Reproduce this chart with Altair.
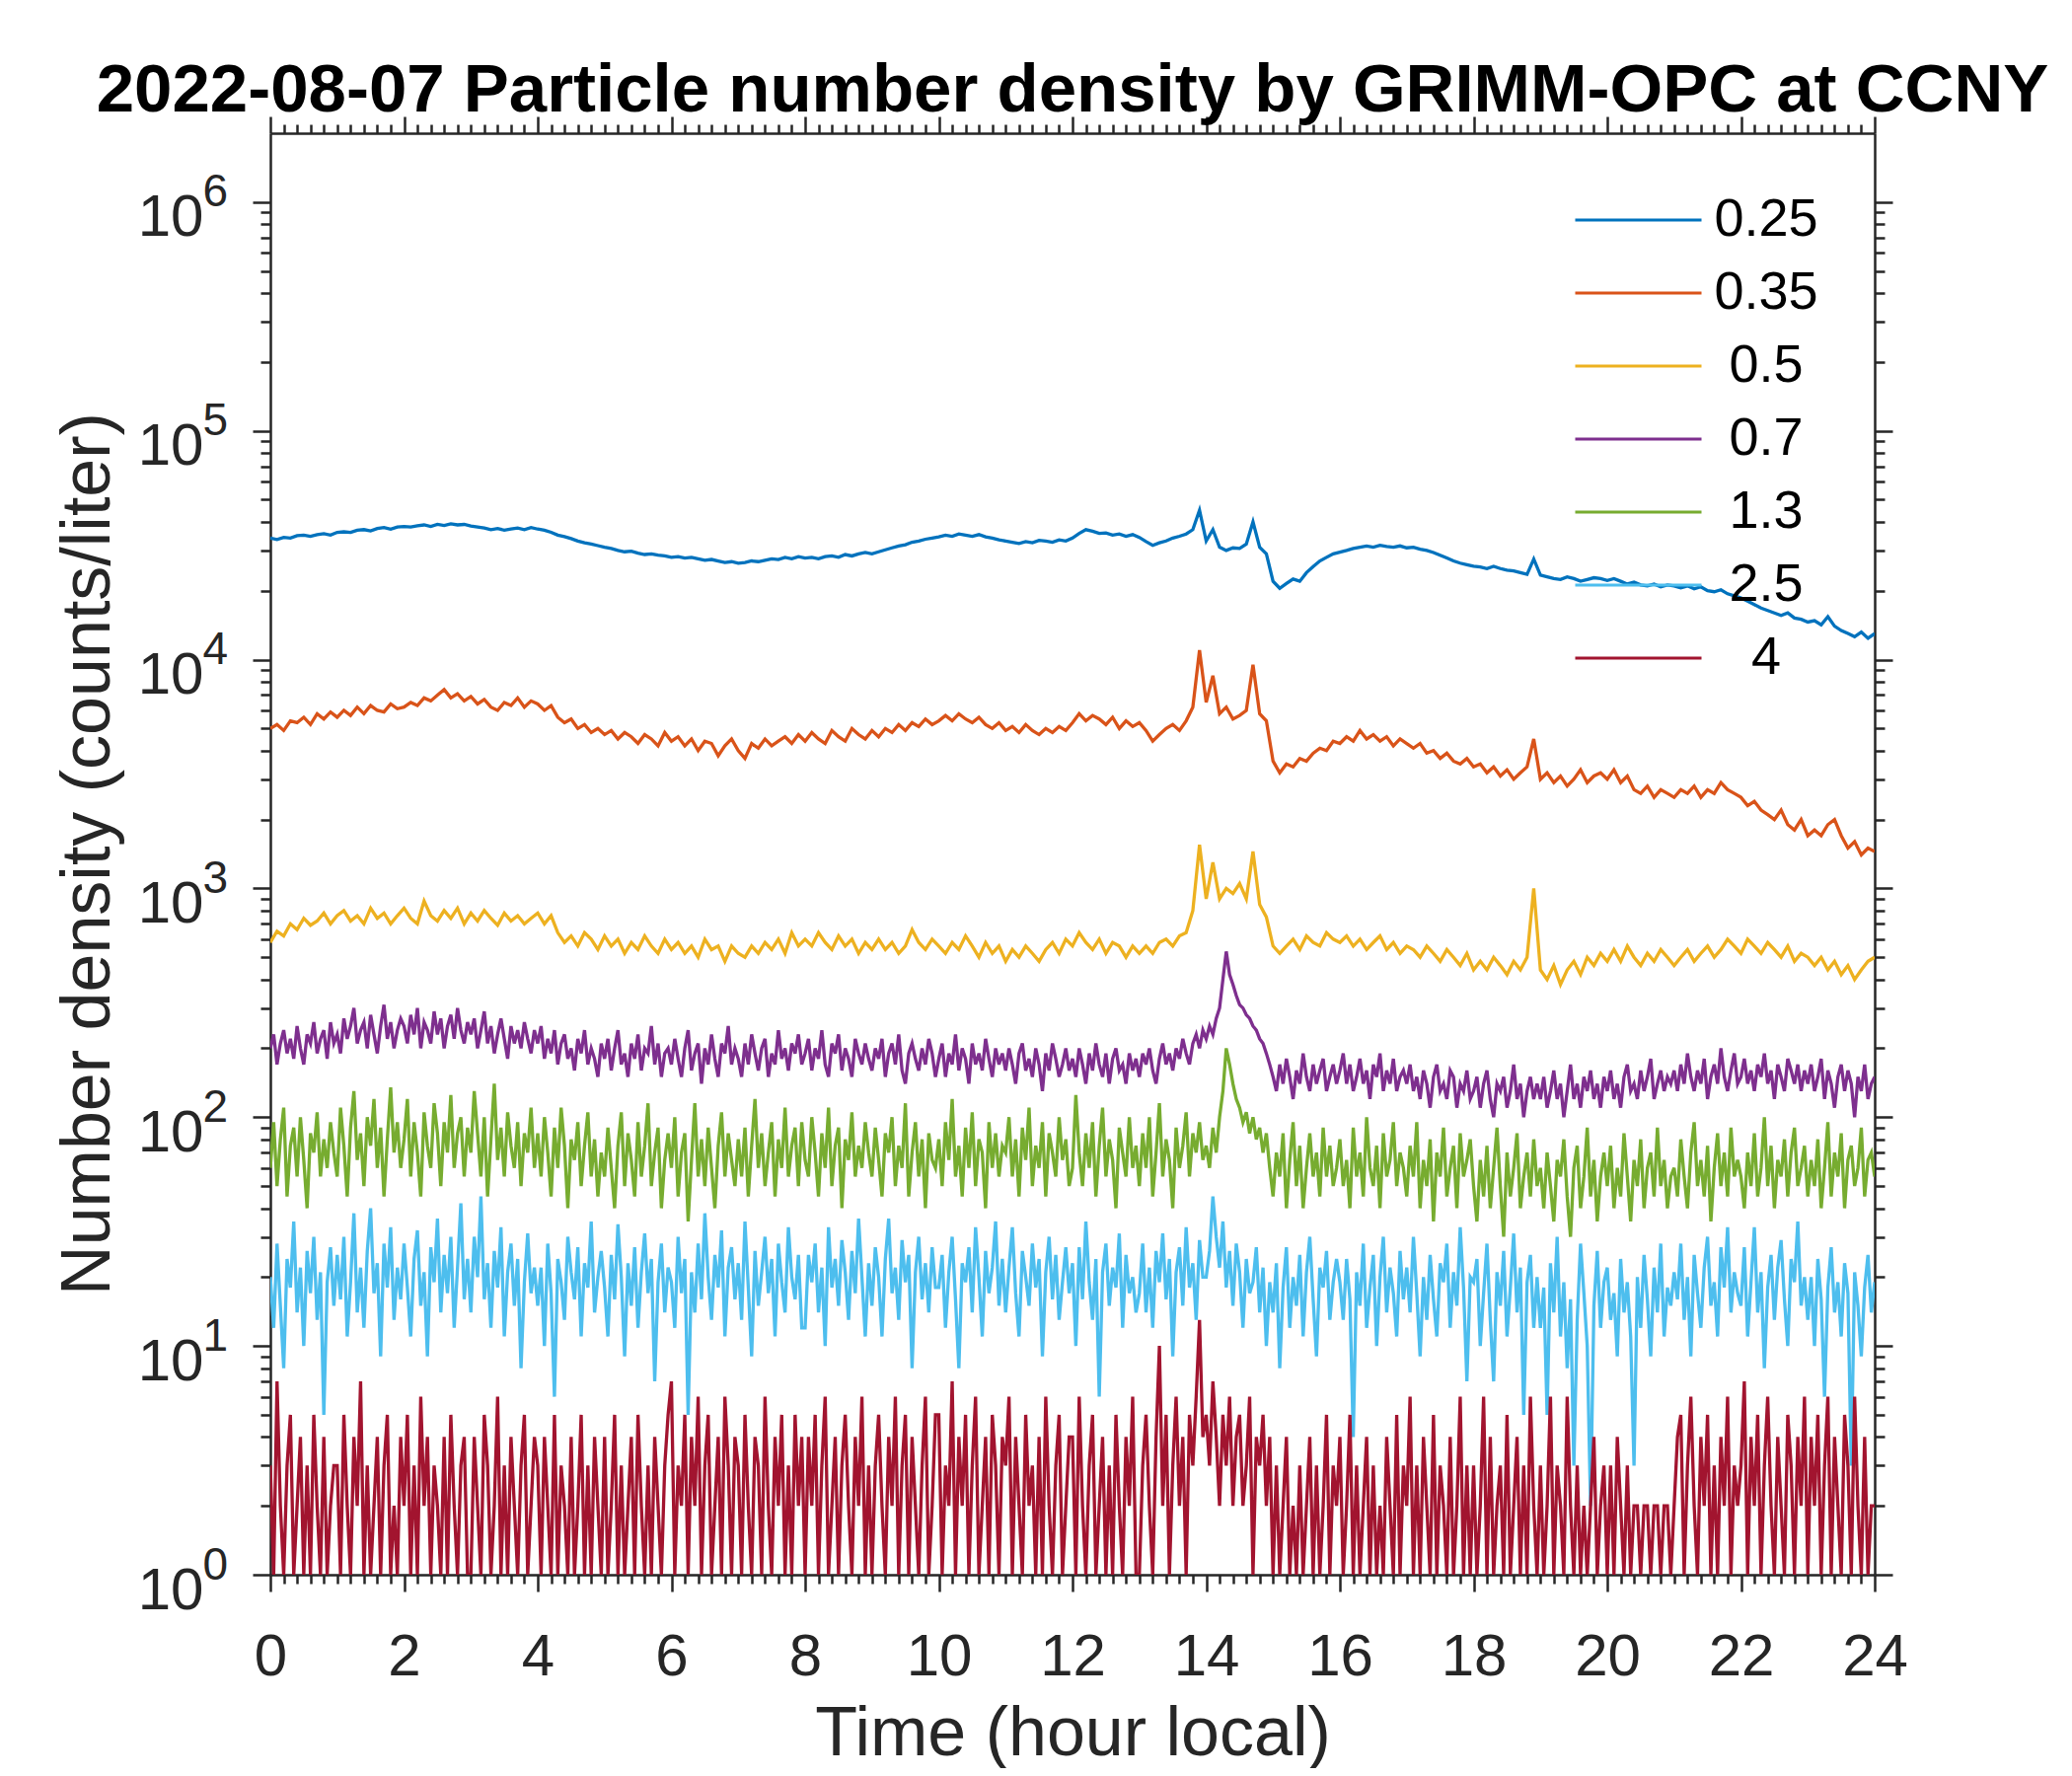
import altair as alt
import pandas as pd

HOURS = [round(i * 0.1, 1) for i in range(241)]
HOURS_FINE = [round(i * 0.05, 2) for i in range(481)]
SIZES = ["0.25", "0.35", "0.5", "0.7", "1.3", "2.5", "4"]
COLORS = ["#0072BD", "#D95319", "#EDB120", "#7E2F8E", "#77AC30", "#4DBEEE", "#A2142F"]

# 0.25 um channel, every 0.1 h
N025 = [
    34000, 33500, 34200, 34000, 34800, 35000, 34600, 35200, 35500, 35000, 36000,
    36200, 36000, 36800, 37000, 36500, 37400, 37800, 37200, 38000, 38200,
    38000, 38500, 38800, 38200, 39000, 38600, 39200, 38800, 39000, 38400,
    38000, 37600, 37000, 37400, 36800, 37200, 37600, 37000, 37800, 37200,
    36800, 36000, 35000, 34500, 33800, 33000, 32400, 32000, 31500, 31000,
    30600, 30000, 29600, 29800, 29200, 28800, 29000, 28600, 28400, 28000,
    28200, 27800, 28000, 27600, 27200, 27400, 27000, 26600, 26800, 26400,
    26600, 27000, 26800, 27200, 27600, 27400, 28000, 27600, 28200, 27800,
    28000, 27600, 28200, 28400, 28000, 28800, 28400, 29000, 29400, 29000,
    29600, 30200, 30800, 31400, 31800, 32600, 33000, 33600, 34000, 34400,
    35000, 34600, 35400, 35000, 34600, 35200, 34400, 34000, 33400, 33000,
    32600, 32200, 32800, 32400, 33200, 33000, 32600, 33400, 33000, 34000,
    35600, 37000, 36400, 35600, 35800, 35000, 35400, 34600, 35200, 34200,
    32800, 31600, 32400, 33000, 34000, 34600, 35400, 37000, 45000, 33000,
    37000, 31000, 30000, 30800, 30600, 32000, 40000, 31000, 29000, 22000,
    20500, 21500, 22500, 22000, 24000, 25500, 27000, 28000, 29000, 29500,
    30000, 30600, 31000, 31400, 31000, 31600, 31200, 31000, 31400, 30800,
    31000, 30400, 30000, 29400, 28600, 27800, 27000, 26400, 26000, 25600,
    25400, 25000, 25600, 25000, 24600, 24400, 24000, 23600, 27500, 23400,
    23000, 22600, 22400, 23000, 22600, 22000, 22400, 22800, 22600, 22200,
    22600, 22000, 21400, 21800, 21200, 21000, 21400, 20800, 21200, 21000,
    20600, 21000, 20400, 20800, 20000, 19800, 20200, 19400, 19000, 18600,
    18000, 17400, 16800, 16400, 16000, 15600, 16000, 15200, 15000, 14600,
    14800, 14200, 15400, 14000, 13400, 13000, 12600, 13200, 12400, 13000,
]
# 0.35 um channel, every 0.1 h
N035 = [
    5000, 5200, 4900, 5400, 5300, 5600, 5200, 5800, 5500, 5900, 5600,
    6000, 5700, 6200, 5800, 6300, 6000, 5900, 6400, 6100, 6200,
    6500, 6300, 6800, 6600, 7000, 7400, 6800, 7100, 6600, 6900,
    6400, 6700, 6200, 6000, 6500, 6300, 6800, 6200, 6600, 6400,
    6000, 6300, 5600, 5300, 5500, 5000, 5200, 4800, 5000, 4700,
    4900, 4500, 4800, 4600, 4300, 4700, 4500, 4200, 4800, 4400,
    4600, 4200, 4500, 4000, 4400, 4300, 3800, 4200, 4500, 4000,
    3700, 4300, 4100, 4500, 4200, 4400, 4600, 4300, 4700, 4400,
    4800, 4500, 4300, 4900, 4600, 4400, 5000, 4700, 4500, 4900,
    4600, 5000, 4800, 5200, 4900, 5300, 5100, 5500, 5200, 5400,
    5700, 5400, 5800, 5500, 5300, 5600, 5200, 5000, 5300, 4900,
    5100, 4800, 5200, 4900, 4700, 5000, 4800, 5100, 4900, 5300,
    5800, 5400, 5700, 5500, 5200, 5600, 5000, 5400, 5100, 5300,
    4900, 4400, 4700, 5000, 5200, 4900, 5400, 6200, 11000, 6500,
    8500, 5800, 6200, 5500, 5700, 6000, 9500, 5800, 5400, 3600,
    3200, 3500, 3400, 3700, 3600, 3900, 4100, 4000, 4400, 4300,
    4600, 4400, 4900, 4500, 4700, 4400, 4600, 4200, 4500, 4300,
    4100, 4300, 3900, 4000, 3700, 3900, 3600, 3500, 3700, 3400,
    3500, 3200, 3400, 3100, 3300, 3000, 3200, 3400, 4500, 3000,
    3200, 2900, 3100, 2800, 3000, 3300, 2900, 3100, 3200, 3000,
    3300, 2900, 3100, 2700, 2600, 2800, 2500, 2700, 2600, 2500,
    2700, 2600, 2800, 2500, 2700, 2600, 2900, 2700, 2600, 2500,
    2300, 2400, 2200, 2100, 2000, 2200, 1900, 1800, 2000, 1700,
    1800, 1700, 1900, 2000, 1700, 1500, 1600, 1400, 1500, 1450,
]
# 0.5 um channel, every 0.1 h
N05 = [
    580, 650, 620, 700, 660, 740, 690, 720, 780, 700, 760,
    800, 720, 760, 700, 820, 740, 780, 700, 760, 820,
    740, 700, 880, 760, 720, 800, 740, 820, 700, 780,
    720, 800, 740, 690, 780, 720, 760, 700, 740, 780,
    700, 760, 640, 580, 620, 560, 640, 600, 540, 620,
    560, 600, 520, 580, 540, 620, 560, 520, 600, 540,
    580, 520, 560, 500, 600, 540, 560, 480, 560, 520,
    500, 560, 520, 580, 540, 600, 520, 640, 560, 600,
    560, 640, 580, 540, 620, 560, 600, 520, 580, 540,
    600, 540, 580, 520, 560, 660, 580, 540, 600, 560,
    520, 580, 540, 620, 560, 500, 580, 520, 560, 480,
    540, 500, 560, 520, 480, 540, 580, 520, 600, 560,
    640, 580, 540, 600, 520, 580, 560, 500, 560, 520,
    560, 520, 580, 600, 560, 620, 640, 800, 1550, 900,
    1300, 900, 1000, 950, 1050, 900, 1450, 850, 750, 560,
    520, 560, 600, 540, 620, 580, 560, 640, 600, 580,
    620, 560, 600, 540, 580, 620, 540, 580, 520, 560,
    540, 500, 560, 520, 480, 540, 500, 460, 520, 440,
    480, 440, 500, 460, 420, 480, 440, 500, 1000, 440,
    400, 460, 380, 440, 480, 420, 500, 460, 520, 480,
    540, 480, 560, 500, 460, 520, 480, 540, 500, 460,
    500, 540, 480, 520, 560, 500, 540, 600, 560, 520,
    600, 560, 520, 580, 540, 500, 560, 480, 520, 500,
    460, 500, 440, 480, 420, 460, 400, 440, 480, 500,
]
# 0.7 um channel, every 0.05 h
N07 = [
    200, 230, 170, 210, 240, 190, 220, 180, 250, 200, 170, 230, 210, 260, 190, 220, 240, 180, 260, 210,
    230, 190, 270, 220, 250, 300, 210, 240, 260, 200, 280, 230, 190, 250, 310, 220, 260, 200, 240, 270,
    250, 210, 280, 230, 300, 200, 260, 240, 210, 290, 230, 270, 200, 250, 280, 220, 300, 240, 210, 260,
    230, 270, 200, 240, 290, 210, 250, 190, 230, 270, 220, 180, 250, 210, 240, 200, 260, 220, 190, 240,
    210, 250, 180, 220, 190, 240, 170, 210, 230, 180, 200, 160, 220, 190, 240, 170, 200, 180, 150, 210,
    180, 220, 160, 200, 240, 170, 190, 150, 210, 180, 230, 160, 200, 190, 250, 170, 210, 150, 190, 200,
    170, 220, 180, 150, 200, 240, 160, 190, 210, 140, 200, 170, 230, 180, 150, 210, 190, 250, 170, 200,
    180, 150, 210, 170, 230, 190, 160, 200, 220, 150, 190, 170, 240, 180, 200, 160, 210, 190, 230, 170,
    190, 220, 160, 200, 180, 240, 170, 150, 210, 190, 230, 160, 200, 180, 150, 220, 190, 170, 210, 180,
    160, 200, 180, 220, 150, 190, 210, 170, 230, 160, 140, 190, 210, 180, 160, 200, 170, 220, 190, 150,
    180, 210, 150, 190, 170, 230, 160, 200, 180, 140, 210, 170, 190, 160, 220, 180, 150, 200, 170, 190,
    160, 200, 170, 140, 190, 210, 160, 180, 150, 200, 170, 130, 190, 160, 210, 180, 150, 170, 200, 160,
    180, 150, 200, 170, 140, 190, 160, 210, 170, 150, 190, 140, 180, 200, 160, 170, 140, 190, 160, 180,
    150, 190, 170, 200, 160, 140, 180, 210, 170, 190, 160, 200, 180, 220, 190, 170, 210, 230, 200, 240,
    220, 250, 230, 270, 300, 400, 530, 420, 380, 340, 310, 300, 280, 270, 250, 240, 220, 210, 190, 170,
    150, 130, 170, 140, 180, 150, 120, 160, 140, 190, 150, 130, 170, 140, 160, 180, 130, 150, 170, 140,
    160, 190, 140, 170, 130, 150, 180, 140, 160, 120, 170, 150, 190, 130, 160, 140, 180, 130, 150, 160,
    140, 170, 130, 150, 120, 160, 140, 110, 150, 170, 130, 140, 120, 160, 150, 110, 140, 130, 160, 120,
    130, 150, 110, 140, 160, 120, 100, 140, 130, 150, 110, 130, 170, 120, 140, 100, 130, 150, 120, 140,
    120, 150, 110, 130, 160, 120, 140, 100, 130, 170, 120, 140, 110, 150, 130, 160, 120, 140, 110, 150,
    130, 160, 120, 140, 110, 150, 170, 130, 140, 120, 160, 130, 150, 180, 120, 140, 160, 130, 150, 140,
    160, 130, 170, 140, 190, 150, 130, 160, 140, 180, 120, 150, 170, 140, 200, 150, 130, 160, 190, 140,
    150, 180, 140, 160, 130, 170, 150, 190, 140, 160, 120, 170, 150, 130, 180, 160, 140, 170, 130, 160,
    140, 170, 130, 150, 180, 120, 160, 140, 110, 150, 170, 130, 160, 140, 100, 150, 130, 170, 120, 140,
    150,
]
# 1.3 um channel, every 0.05 h
N13 = [
    60, 95, 50, 80, 110, 45, 75, 90, 55, 100, 65, 40, 85, 70, 105, 55, 80, 60, 95, 70,
    55, 110, 75, 45, 90, 130, 65, 85, 50, 100, 75, 120, 60, 90, 45, 80, 135, 70, 95, 60,
    80, 120, 55, 95, 70, 45, 105, 75, 60, 115, 85, 50, 95, 70, 125, 60, 85, 100, 55, 90,
    70, 130, 85, 55, 100, 45, 80, 140, 65, 90, 55, 105, 75, 60, 95, 50, 85, 70, 110, 60,
    85, 55, 100, 70, 45, 90, 60, 110, 75, 40, 80, 65, 95, 50, 75, 105, 55, 80, 45, 70,
    55, 90, 60, 40, 75, 105, 50, 85, 65, 45, 95, 55, 75, 115, 50, 70, 90, 40, 65, 85,
    60, 100, 45, 70, 85, 35, 65, 115, 55, 80, 50, 90, 60, 40, 75, 105, 55, 85, 65, 50,
    80, 55, 90, 45, 75, 120, 60, 85, 50, 70, 95, 45, 80, 60, 110, 55, 75, 90, 50, 95,
    65, 55, 100, 70, 45, 85, 60, 110, 50, 75, 90, 40, 80, 65, 105, 55, 75, 60, 95, 70,
    55, 90, 65, 45, 85, 70, 100, 50, 75, 60, 115, 45, 70, 95, 55, 80, 40, 85, 65, 60,
    80, 50, 95, 65, 120, 55, 75, 45, 90, 60, 105, 50, 80, 70, 40, 95, 60, 85, 55, 75,
    70, 100, 55, 80, 45, 90, 65, 110, 50, 75, 60, 95, 45, 85, 70, 55, 100, 65, 80, 50,
    60, 125, 70, 50, 85, 60, 95, 45, 75, 110, 55, 80, 65, 40, 90, 70, 55, 100, 60, 75,
    50, 85, 60, 100, 45, 70, 115, 55, 80, 65, 40, 90, 60, 75, 105, 55, 85, 70, 95, 65,
    75, 60, 90, 70, 100, 130, 200, 170, 140, 120, 110, 95, 105, 85, 100, 80, 90, 70, 85, 60,
    45, 70, 55, 85, 40, 65, 95, 50, 75, 40, 60, 85, 55, 70, 45, 90, 55, 75, 50, 60,
    80, 50, 65, 40, 90, 55, 70, 45, 100, 60, 50, 75, 40, 85, 55, 65, 95, 50, 70, 60,
    45, 75, 55, 95, 40, 65, 50, 80, 35, 70, 55, 90, 45, 60, 75, 40, 85, 55, 65, 80,
    50, 35, 65, 45, 75, 40, 60, 90, 50, 30, 70, 45, 60, 85, 40, 55, 70, 45, 80, 50,
    60, 40, 70, 50, 35, 65, 55, 80, 45, 30, 60, 75, 40, 55, 90, 45, 65, 35, 55, 70,
    50, 75, 40, 60, 45, 85, 55, 35, 65, 50, 80, 40, 60, 70, 45, 90, 50, 65, 40, 55,
    60, 45, 80, 55, 40, 70, 95, 50, 65, 45, 75, 35, 60, 85, 50, 70, 45, 90, 55, 65,
    55, 40, 70, 50, 85, 45, 60, 100, 50, 75, 40, 65, 55, 80, 45, 70, 90, 50, 60, 75,
    45, 65, 50, 80, 40, 60, 95, 45, 70, 55, 85, 40, 65, 75, 50, 60, 90, 45, 65, 70,
    55,
]
# 2.5 um channel, every 0.05 h
N25 = [
    20, 12, 28, 15, 8, 24, 18, 35, 14, 22, 10, 26, 17, 30, 13, 21, 5, 19, 27, 15,
    25, 16, 30, 11, 19, 38, 14, 22, 12, 26, 40, 17, 23, 9, 28, 18, 33, 13, 22, 16,
    28, 18, 11, 24, 32, 15, 21, 9, 27, 19, 36, 14, 25, 17, 30, 12, 22, 42, 16, 24,
    14, 30, 20, 45, 16, 23, 12, 26, 18, 33, 11, 21, 28, 15, 24, 8, 19, 31, 17, 22,
    15, 22, 10, 28, 17, 6, 24, 19, 13, 30, 21, 16, 27, 11, 23, 18, 35, 14, 20, 26,
    18, 11, 25, 16, 34, 20, 9, 23, 15, 27, 12, 21, 31, 17, 24, 7, 19, 28, 14, 22,
    19, 12, 30, 17, 24, 5, 21, 14, 28, 16, 38, 20, 13, 25, 18, 32, 11, 22, 27, 16,
    23, 13, 35, 18, 9, 26, 15, 21, 30, 17, 24, 11, 28, 19, 14, 33, 20, 16, 25, 12,
    12, 25, 19, 28, 14, 22, 10, 33, 18, 24, 15, 29, 21, 13, 26, 17, 36, 20, 11, 23,
    15, 27, 20, 11, 24, 36, 17, 22, 13, 29, 19, 25, 8, 21, 30, 16, 23, 14, 27, 18,
    18, 25, 12, 21, 30, 16, 8, 23, 19, 27, 14, 33, 20, 11, 26, 17, 22, 35, 15, 24,
    14, 22, 33, 17, 11, 26, 20, 15, 28, 18, 24, 9, 21, 30, 16, 25, 13, 19, 27, 17,
    23, 10, 27, 16, 35, 19, 13, 24, 6, 21, 28, 15, 22, 18, 31, 12, 25, 17, 20, 14,
    17, 28, 14, 22, 12, 26, 19, 31, 16, 24, 9, 21, 27, 15, 33, 18, 23, 13, 29, 20,
    20, 26, 45, 30, 22, 35, 18, 26, 15, 28, 21, 12, 24, 17, 19, 27, 14, 22, 10, 19,
    14, 23, 8, 18, 27, 12, 20, 15, 25, 11, 21, 30, 16, 9, 22, 18, 26, 13, 19, 24,
    19, 13, 24, 16, 4, 21, 15, 28, 12, 18, 25, 10, 20, 30, 14, 22, 17, 11, 26, 16,
    22, 14, 30, 17, 9, 20, 13, 25, 16, 11, 23, 19, 28, 12, 21, 15, 33, 18, 7, 20,
    19, 24, 10, 17, 28, 13, 7, 21, 15, 26, 11, 18, 31, 14, 22, 5, 19, 25, 12, 20,
    12, 18, 5, 23, 14, 30, 11, 19, 8, 16, 3, 13, 28, 17, 10, 2, 15, 26, 12, 19,
    22, 13, 17, 9, 24, 14, 19, 11, 3, 20, 12, 25, 16, 9, 22, 14, 28, 11, 18, 15,
    21, 16, 28, 13, 20, 9, 25, 17, 12, 22, 30, 15, 19, 11, 27, 18, 33, 14, 21, 17,
    15, 27, 11, 19, 33, 14, 21, 8, 18, 25, 13, 22, 29, 16, 10, 24, 19, 35, 15, 20,
    13, 20, 10, 24, 16, 6, 18, 27, 14, 19, 11, 23, 17, 3, 21, 15, 9, 18, 25, 14,
    19,
]
# 4 um channel, every 0.05 h
N4 = [
    3, 1, 7, 2, 1, 3, 5, 1, 2, 4, 1, 3, 1, 5, 2, 1, 4, 1, 2, 3,
    3, 1, 5, 2, 1, 4, 2, 7, 1, 3, 1, 2, 4, 1, 3, 5, 1, 2, 1, 4,
    2, 5, 1, 3, 1, 6, 2, 4, 1, 3, 2, 1, 4, 1, 5, 2, 1, 3, 4, 1,
    1, 4, 2, 1, 5, 3, 1, 2, 6, 1, 3, 1, 4, 2, 1, 3, 5, 1, 2, 4,
    3, 1, 4, 2, 1, 5, 1, 3, 2, 1, 4, 1, 2, 5, 1, 3, 1, 4, 2, 1,
    4, 1, 2, 5, 1, 3, 1, 2, 4, 1, 5, 2, 1, 3, 1, 4, 2, 1, 3, 5,
    7, 1, 3, 2, 5, 1, 4, 2, 6, 1, 3, 5, 1, 2, 4, 1, 6, 3, 1, 4,
    3, 1, 5, 2, 1, 4, 3, 1, 6, 2, 1, 4, 2, 5, 1, 3, 1, 5, 2, 4,
    1, 4, 2, 5, 1, 3, 6, 1, 2, 4, 1, 3, 5, 2, 1, 4, 2, 6, 1, 3,
    1, 3, 5, 2, 1, 4, 2, 6, 1, 3, 5, 1, 4, 2, 1, 3, 6, 1, 2, 5,
    5, 1, 3, 2, 7, 1, 4, 2, 5, 1, 3, 6, 1, 2, 4, 1, 5, 3, 1, 4,
    3, 6, 1, 4, 2, 1, 5, 2, 3, 1, 4, 1, 6, 2, 1, 3, 5, 1, 2, 4,
    4, 1, 6, 2, 1, 3, 5, 1, 2, 4, 1, 3, 1, 5, 2, 1, 4, 2, 6, 1,
    1, 3, 5, 2, 1, 4, 10, 2, 5, 1, 3, 6, 2, 4, 1, 5, 3, 6, 13, 4,
    5, 3, 7, 4, 2, 5, 3, 6, 2, 4, 5, 2, 3, 6, 1, 4, 3, 5, 2, 4,
    1, 3, 1, 2, 4, 1, 2, 1, 3, 1, 2, 4, 1, 3, 1, 2, 5, 1, 3, 2,
    4, 1, 2, 5, 1, 3, 1, 2, 4, 1, 3, 1, 2, 1, 4, 2, 1, 5, 1, 3,
    2, 6, 1, 3, 1, 4, 2, 1, 5, 1, 3, 2, 1, 4, 1, 2, 6, 1, 3, 1,
    3, 1, 2, 6, 1, 4, 1, 2, 3, 1, 5, 1, 2, 4, 1, 3, 1, 6, 2, 1,
    3, 1, 2, 6, 1, 3, 2, 1, 6, 2, 1, 3, 1, 2, 1, 2, 4, 1, 2, 3,
    1, 3, 1, 4, 2, 1, 3, 1, 2, 2, 1, 2, 2, 1, 2, 2, 1, 2, 2, 1,
    2, 4, 5, 1, 3, 6, 2, 1, 4, 2, 5, 1, 3, 1, 4, 2, 6, 1, 3, 2,
    3, 7, 1, 4, 2, 5, 1, 3, 6, 2, 1, 4, 2, 1, 5, 3, 1, 4, 2, 6,
    1, 4, 2, 5, 1, 3, 6, 1, 4, 2, 1, 5, 3, 1, 6, 2, 1, 4, 1, 2,
    2,
]

SERIES = [
    ("0.25", HOURS, N025), ("0.35", HOURS, N035), ("0.5", HOURS, N05),
    ("0.7", HOURS_FINE, N07), ("1.3", HOURS_FINE, N13),
    ("2.5", HOURS_FINE, N25), ("4", HOURS_FINE, N4),
]
for name, hrs, s in SERIES:
    if len(s) != len(hrs):
        raise ValueError(f"series {name} has {len(s)} values, expected {len(hrs)}")

rows = []
for name, hrs, s in SERIES:
    for h, v in zip(hrs, s):
        rows.append({"hour": h, "density": v, "size": name})
df = pd.DataFrame(rows)

XTICKS = [i / 5 for i in range(121)]
YTICKS = [m * 10 ** e for e in range(6) for m in range(1, 10)] + [10 ** 6]
DECADES = [10 ** e for e in range(7)]

FONT = "Liberation Sans"
AX = "#262626"
XMAJOR = "abs(datum.value/2 - round(datum.value/2)) < 0.01"
YMAJOR = "abs(log(datum.value)/LN10 - round(log(datum.value)/LN10)) < 0.001"

xscale = alt.Scale(domain=[0, 24], nice=False, zero=False)
yscale = alt.Scale(type="log", domain=[1, 2000000], nice=False)

common = dict(domainColor=AX, domainWidth=2.5, tickColor=AX, tickWidth=2.5,
              grid=False, labelFont=FONT, labelColor=AX, titleFont=FONT,
              titleColor=AX, titleFontWeight="normal")

x_bottom = alt.Axis(
    orient="bottom", values=XTICKS,
    labelExpr=f"{XMAJOR} ? '' + round(datum.value) : ''",
    tickSize={"condition": {"test": XMAJOR, "value": 17}, "value": 9},
    labelFontSize=60, labelPadding=84, labelBaseline="alphabetic",
    labelFlush=False, labelOverlap=False,
    title="Time (hour local)", titleFontSize=70, titleBaseline="alphabetic",
    titleAlign="center", titleX=813, titleY=182, **common)

y_left = alt.Axis(
    orient="left", values=YTICKS,
    labelExpr=f"{YMAJOR} ? '10' : ''",
    tickSize={"condition": {"test": YMAJOR, "value": 18}, "value": 10},
    labelFontSize=60, labelPadding=50, labelAlign="right",
    labelBaseline="alphabetic", labelOffset=34,
    labelFlush=False, labelOverlap=False,
    title="Number density (counts/liter)", titleFontSize=70,
    titleBaseline="alphabetic", titleAlign="center", titleX=-164, titleY=730,
    **common)

x_top = alt.Axis(
    orient="top", values=XTICKS, labels=False, title=None,
    tickSize={"condition": {"test": XMAJOR, "value": 17}, "value": 9},
    **common)

y_right = alt.Axis(
    orient="right", values=YTICKS, labels=False, title=None,
    tickSize={"condition": {"test": YMAJOR, "value": 18}, "value": 10},
    **common)

y_exp = alt.Axis(
    orient="left", values=DECADES,
    labelExpr="'' + round(log(datum.value)/LN10)",
    ticks=False, domain=False, tickSize=0, grid=False,
    labelFont=FONT, labelColor=AX, labelFontSize=46, labelAlign="left",
    labelPadding=69, labelBaseline="alphabetic", labelOffset=4,
    labelFlush=False, labelOverlap=False, title=None)

legend = alt.Legend(
    orient="none", legendX=1321, legendY=51, direction="vertical", title=None,
    symbolType="stroke", symbolSize=16384, symbolStrokeWidth=3,
    labelFont=FONT, labelFontSize=54, labelColor="black",
    labelAlign="center", labelOffset=64, clipHeight=74, rowPadding=0,
    padding=0)

base = alt.Chart(df)

lines = base.mark_line(strokeWidth=3.3, clip=True).encode(
    x=alt.X("hour:Q", scale=xscale, axis=x_bottom),
    y=alt.Y("density:Q", scale=yscale, axis=y_left),
    color=alt.Color("size:N", scale=alt.Scale(domain=SIZES, range=COLORS),
                    legend=legend, sort=SIZES),
)

mirror = base.mark_line(opacity=0).encode(
    x=alt.X("hour:Q", scale=xscale, axis=x_top),
    y=alt.Y("density:Q", scale=yscale, axis=y_right),
    detail="size:N",
)

exps = base.mark_line(opacity=0).encode(
    x=alt.X("hour:Q", scale=xscale, axis=None),
    y=alt.Y("density:Q", scale=yscale, axis=y_exp),
    detail="size:N",
)

chart = alt.layer(lines, mirror, exps).resolve_axis(
    x="independent", y="independent"
).properties(
    width=1626, height=1461,
    padding={"left": 266, "top": 127, "right": 192, "bottom": 196},
    autosize=alt.AutoSizeParams(type="none"),
    title=alt.TitleParams(
        text="2022-08-07 Particle number density by GRIMM-OPC at CCNY",
        font=FONT, fontSize=69, fontWeight="bold", color="black",
        anchor="middle", frame="group", baseline="alphabetic", offset=3,
        dy=68),
).configure_view(stroke=None)

chart.save("out.html", embed_options={"renderer": "svg", "actions": False})
